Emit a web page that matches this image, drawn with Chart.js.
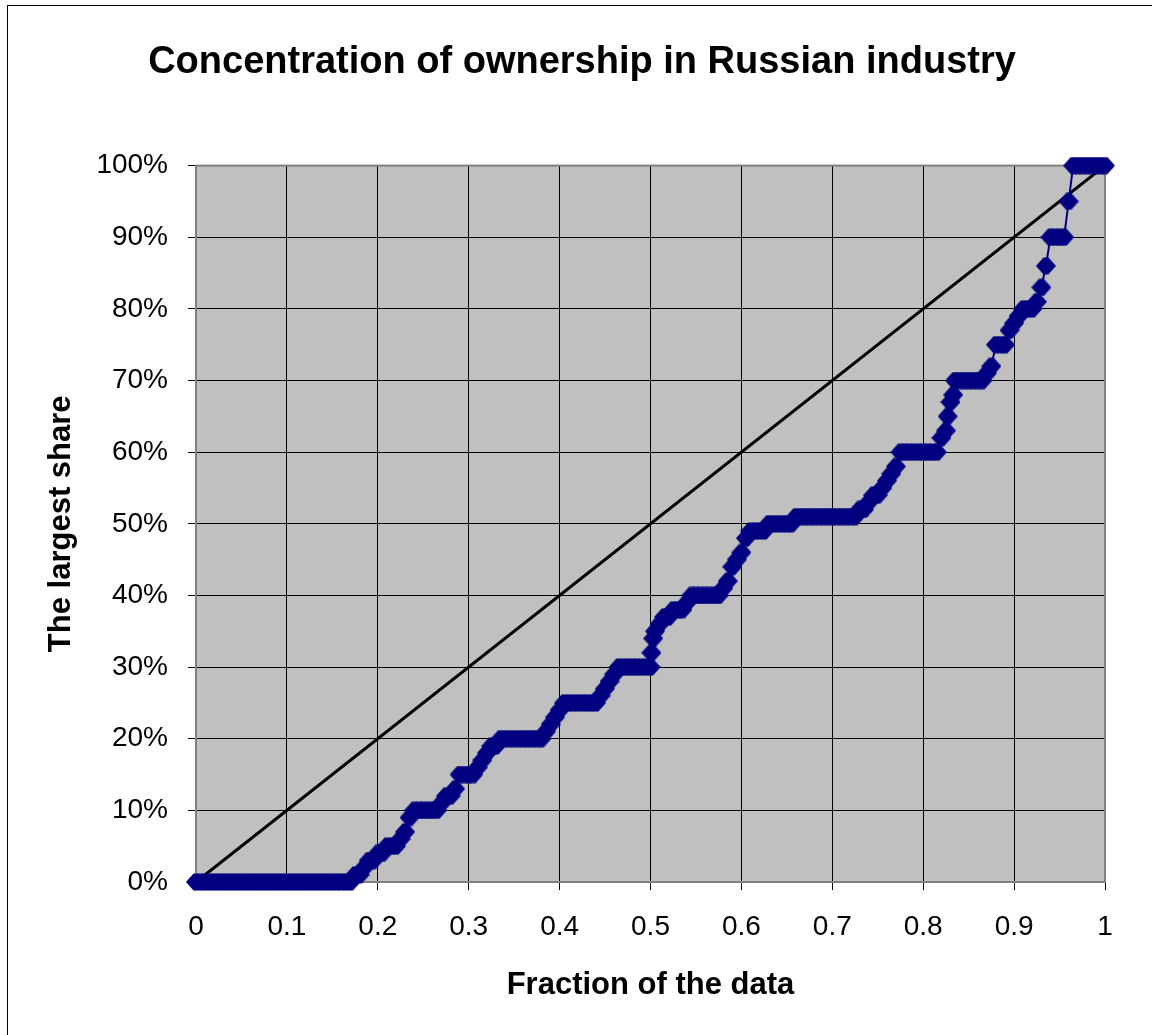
<!DOCTYPE html>
<html>
<head>
<meta charset="utf-8">
<title>Concentration of ownership in Russian industry</title>
<script src="https://cdn.jsdelivr.net/npm/chart.js@4/dist/chart.umd.min.js"></script>
<style>
  body { margin: 0; background: #fff; }
  #chart { display: block; }
</style>
</head>
<body>
<canvas id="chart" width="1152" height="1035"></canvas>
<script>
// fraction of the data (x) and the largest share in % (y)
const fraction = [
  0, 0.005, 0.01, 0.015, 0.02, 0.025, 0.03, 0.035, 0.04, 0.045,
  0.05, 0.055, 0.06, 0.065, 0.07, 0.075, 0.08, 0.085, 0.09, 0.095,
  0.1, 0.105, 0.11, 0.115, 0.12, 0.125, 0.13, 0.135, 0.14, 0.145,
  0.15, 0.155, 0.16, 0.165, 0.17, 0.175, 0.18, 0.185, 0.19, 0.195,
  0.2, 0.205, 0.21, 0.215, 0.22, 0.225, 0.23, 0.235, 0.24, 0.245,
  0.25, 0.255, 0.26, 0.265, 0.27, 0.275, 0.28, 0.285, 0.29, 0.295,
  0.3, 0.305, 0.31, 0.315, 0.32, 0.325, 0.33, 0.335, 0.34, 0.345,
  0.35, 0.355, 0.36, 0.365, 0.37, 0.375, 0.38, 0.385, 0.39, 0.395,
  0.4, 0.405, 0.41, 0.415, 0.42, 0.425, 0.43, 0.435, 0.44, 0.445,
  0.45, 0.455, 0.46, 0.465, 0.47, 0.475, 0.48, 0.485, 0.49, 0.495,
  0.5, 0.501, 0.503, 0.505, 0.51, 0.515, 0.52, 0.525, 0.53, 0.535, 0.54, 0.545,
  0.55, 0.555, 0.56, 0.565, 0.57, 0.575, 0.58, 0.585, 0.59, 0.595,
  0.6, 0.605, 0.61, 0.615, 0.62, 0.625, 0.63, 0.635, 0.64, 0.645,
  0.65, 0.655, 0.66, 0.665, 0.67, 0.675, 0.68, 0.685, 0.69, 0.695,
  0.7, 0.705, 0.71, 0.715, 0.72, 0.725, 0.73, 0.735, 0.74, 0.745,
  0.75, 0.755, 0.76, 0.765, 0.77, 0.775, 0.78, 0.785, 0.79, 0.795,
  0.8, 0.805, 0.81, 0.815, 0.82, 0.825, 0.827, 0.83, 0.833, 0.835, 0.84, 0.845,
  0.85, 0.855, 0.86, 0.865, 0.87, 0.875, 0.88, 0.885, 0.89, 0.895,
  0.9, 0.905, 0.91, 0.915, 0.92, 0.925, 0.93, 0.935, 0.94, 0.945,
  0.95, 0.955, 0.96, 0.965, 0.97, 0.975, 0.98, 0.985, 0.99, 0.995,
  1
];
const share = [
  0, 0, 0, 0, 0, 0, 0, 0, 0, 0,
  0, 0, 0, 0, 0, 0, 0, 0, 0, 0,
  0, 0, 0, 0, 0, 0, 0, 0, 0, 0,
  0, 0, 0, 0, 0, 1, 1, 2, 3, 3,
  4, 4, 5, 5, 5, 6, 7, 9, 10, 10,
  10, 10, 10, 10, 11, 12, 12, 13, 15, 15,
  15, 15, 16, 17, 18, 19, 19, 20, 20, 20,
  20, 20, 20, 20, 20, 20, 20, 21, 22, 23,
  24, 25, 25, 25, 25, 25, 25, 25, 25, 26,
  27, 28, 29, 30, 30, 30, 30, 30, 30, 30,
  30, 32, 34, 35, 36, 37, 37, 38, 38, 38, 39, 40,
  40, 40, 40, 40, 40, 40, 41, 42, 44, 45,
  46, 48, 49, 49, 49, 49, 50, 50, 50, 50,
  50, 50, 51, 51, 51, 51, 51, 51, 51, 51,
  51, 51, 51, 51, 51, 51, 52, 52, 53, 54,
  54, 55, 56, 57, 58, 60, 60, 60, 60, 60,
  60, 60, 60, 60, 62, 63, 65, 67, 68, 70, 70, 70,
  70, 70, 70, 70, 71, 72, 75, 75, 75, 77,
  78, 79, 80, 80, 80, 81, 83, 86, 90, 90,
  90, 90, 95, 100, 100, 100, 100, 100, 100, 100,
  100
];
// equality line
const diagX = [0, 1];
const diagY = [0, 100];

const xTicks = ['0', '0.1', '0.2', '0.3', '0.4', '0.5', '0.6', '0.7', '0.8', '0.9', '1'];

const NAVY = '#000080';
const FONT = "'Liberation Sans', Arial, sans-serif";

// Excel-like diamond marker, slightly flattened at top and bottom
function makeMarker() {
  const c = document.createElement('canvas');
  c.width = 20;
  c.height = 18;
  const g = c.getContext('2d');
  g.fillStyle = NAVY;
  g.beginPath();
  g.moveTo(0, 9);
  g.lineTo(7.5, 0.5);
  g.lineTo(12.5, 0.5);
  g.lineTo(20, 9);
  g.lineTo(12.5, 17.5);
  g.lineTo(7.5, 17.5);
  g.closePath();
  g.fill();
  return c;
}

// grey plot background, grey frame round the plot, thin frame round the chart
const plotFrame = {
  id: 'plotFrame',
  beforeDraw(chart) {
    const { ctx, chartArea: a } = chart;
    ctx.save();
    ctx.fillStyle = '#c0c0c0';
    ctx.fillRect(a.left, a.top, a.right - a.left, a.bottom - a.top);
    ctx.strokeStyle = '#000';
    ctx.lineWidth = 1;
    ctx.strokeRect(7.5, 5.5, 1160, 1050);
    ctx.restore();
  },
  beforeDatasetsDraw(chart) {
    const { ctx, chartArea: a } = chart;
    ctx.save();
    ctx.strokeStyle = '#808080';
    ctx.lineWidth = 2;
    ctx.strokeRect(a.left, a.top, a.right - a.left, a.bottom - a.top);
    ctx.restore();
  }
};

new Chart(document.getElementById('chart'), {
  type: 'scatter',
  data: {
    datasets: [
      {
        data: fraction.map((x, i) => ({ x: x, y: share[i] })),
        showLine: true,
        borderColor: NAVY,
        borderWidth: 2,
        pointStyle: makeMarker(),
        pointRadius: 9,
        clip: false,
        order: 1
      },
      {
        data: diagX.map((x, i) => ({ x: x, y: diagY[i] })),
        showLine: true,
        borderColor: '#000',
        borderWidth: 3,
        pointRadius: 0,
        order: 2
      }
    ]
  },
  options: {
    responsive: false,
    animation: false,
    devicePixelRatio: 1,
    // left padding moves the title's centre over to where it sits in the original
    layout: { padding: { left: 59, right: 47, top: 0, bottom: 0 } },
    plugins: {
      legend: { display: false },
      tooltip: { enabled: false },
      title: {
        display: true,
        text: 'Concentration of ownership in Russian industry',
        color: '#000',
        font: { family: FONT, size: 38, weight: 'bold', lineHeight: 1.2 },
        padding: { top: 40, bottom: 80 }
      }
    },
    scales: {
      x: {
        type: 'linear',
        min: 0,
        max: 1,
        afterFit(scale) { scale.height = 153; },
        afterBuildTicks(scale) {
          scale.ticks = xTicks.map(t => ({ value: parseFloat(t) }));
        },
        ticks: {
          color: '#000',
          padding: 20,
          maxRotation: 0,
          autoSkip: false,
          font: { family: FONT, size: 28 },
          callback: (v, i) => xTicks[i]
        },
        grid: { color: '#000', lineWidth: 1, tickLength: 8, tickColor: '#000' },
        border: { display: false },
        title: {
          display: true,
          text: 'Fraction of the data',
          color: '#000',
          font: { family: FONT, size: 31, weight: 'bold', lineHeight: 1.2 },
          padding: { top: 10, bottom: 31 }
        }
      },
      y: {
        min: 0,
        max: 100,
        afterFit(scale) { scale.width = 137; },
        ticks: {
          stepSize: 10,
          color: '#000',
          padding: 20,
          font: { family: FONT, size: 28 },
          callback: v => v + '%'
        },
        grid: { color: '#000', lineWidth: 1, tickLength: 8, tickColor: '#000' },
        border: { display: false },
        title: {
          display: true,
          text: 'The largest share',
          color: '#000',
          font: { family: FONT, size: 31, weight: 'bold', lineHeight: 1.2 },
          padding: { top: -16, bottom: 0 }
        }
      }
    }
  },
  plugins: [plotFrame]
});
</script>
</body>
</html>
